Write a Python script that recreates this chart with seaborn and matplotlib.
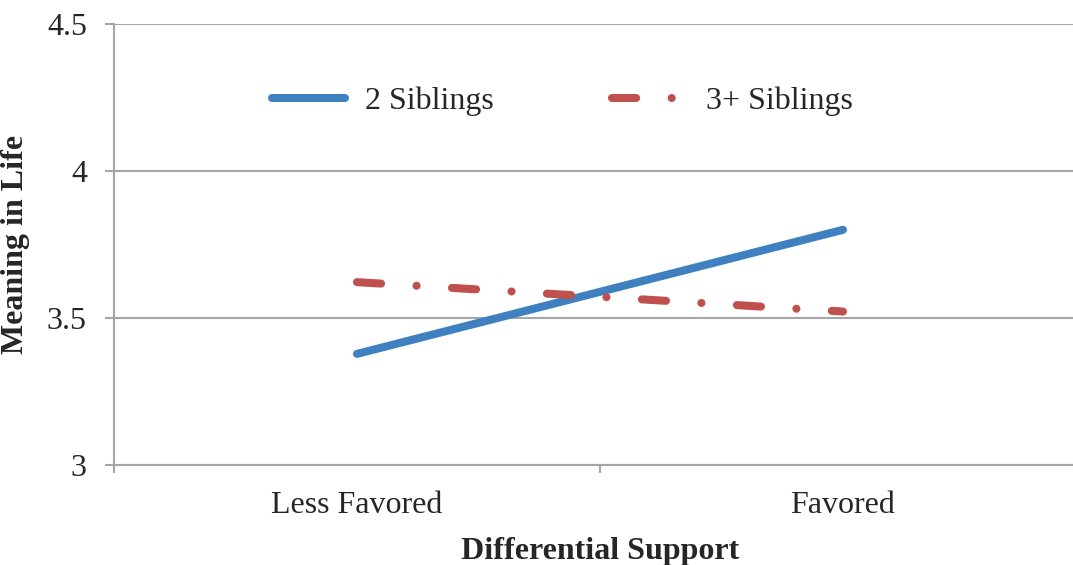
import pandas as pd
import seaborn as sns
import matplotlib.pyplot as plt

support = ['Less Favored', 'Favored']
two_siblings = [3.378, 3.80]
three_plus_siblings = [3.622, 3.522]

df = pd.DataFrame({
    'Differential Support': support * 2,
    'Meaning in Life': two_siblings + three_plus_siblings,
    'Group': ['2 Siblings'] * 2 + ['3+ Siblings'] * 2,
})

sns.set_style('white')
plt.rcParams['font.family'] = ['Liberation Serif', 'DejaVu Serif']

fig = plt.figure(figsize=(10.73, 5.65), dpi=100)
ax = fig.add_axes([114 / 1073, 100 / 565, 972 / 1073, 441 / 565])

sns.lineplot(
    data=df,
    x='Differential Support',
    y='Meaning in Life',
    hue='Group',
    style='Group',
    palette={'2 Siblings': '#3F80C0', '3+ Siblings': '#C0504D'},
    dashes={'2 Siblings': '', '3+ Siblings': (3.0, 4.4, 0.01, 4.4)},
    linewidth=5.8,
    solid_capstyle='round',
    dash_capstyle='round',
    ax=ax,
)

ax.set_xlim(-0.5, 1.5)
ax.set_ylim(3, 4.5)
ax.set_yticks([3, 3.5, 4, 4.5])
ax.set_yticklabels(['3', '3.5', '4', '4.5'])
ax.set_xticks([0, 1])
ax.set_xticklabels(support)
ax.set_xticks([-0.5, 0.5, 1.5], minor=True)

ax.grid(axis='y', color='#A6A6A6', linewidth=1.5)
ax.set_axisbelow(True)
for side in ['top', 'right']:
    ax.spines[side].set_visible(False)
for side in ['left', 'bottom']:
    ax.spines[side].set_color('#A6A6A6')
    ax.spines[side].set_linewidth(1.5)

ax.tick_params(axis='y', which='major', length=6.5, width=1.5, color='#A6A6A6',
               pad=13, labelsize=23, direction='out', left=True)
ax.tick_params(axis='x', which='major', length=0, pad=19, labelsize=23)
ax.tick_params(axis='x', which='minor', length=6, width=1.5, color='#A6A6A6',
               direction='out', bottom=True)

ax.set_xlabel('Differential Support', fontsize=23, fontweight='bold', labelpad=12)
ax.set_ylabel('Meaning in Life', fontsize=23, fontweight='bold', labelpad=12)

ax.legend(loc='center', bbox_to_anchor=(0.461, 0.825), ncol=2, frameon=False,
          fontsize=23, handlelength=2.3, handletextpad=0.63, columnspacing=3.7)

fig.savefig('out.png', dpi=100)
